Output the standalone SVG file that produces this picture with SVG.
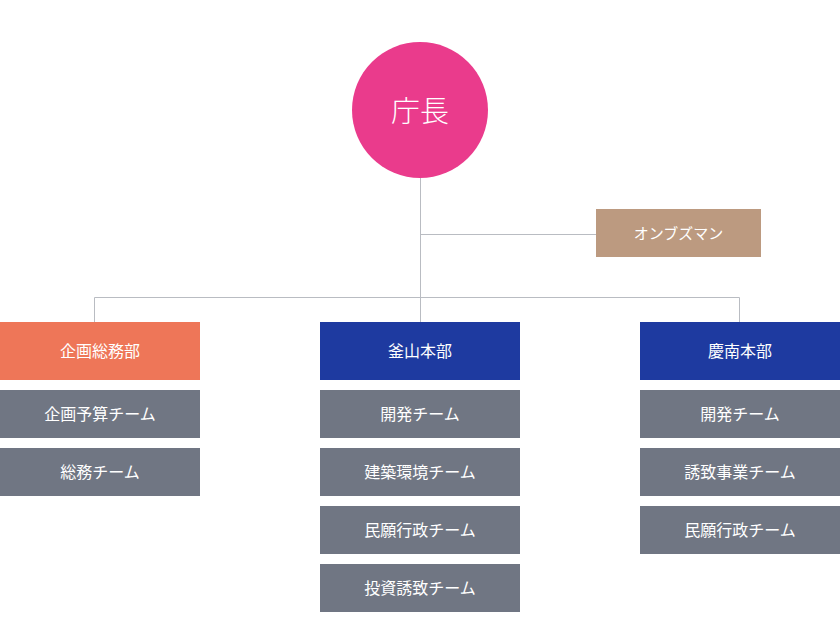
<svg xmlns="http://www.w3.org/2000/svg" width="840" height="644" viewBox="0 0 840 644">
<style>
text{font-family:"Noto Sans CJK JP","Noto Sans CJK SC",sans-serif;fill:#fff;text-anchor:middle;dominant-baseline:central;font-weight:400}
.dept{font-size:16px}
.team{font-size:16px}
.gray{fill:#707683}
.blue{fill:#1E3AA0}
.line{stroke:#B9BCC2;stroke-width:1;fill:none}
</style>
<rect width="840" height="644" fill="#fff"/>
<g id="connectors">
<path class="line" d="M420.5 178V322M420.5 234.5H596M94.5 322V297.5H739.5V322"/>
</g>
<g id="chief"><circle cx="420" cy="110" r="68" fill="#EA3B8C"/><text x="420" y="109" style="font-size:29px;font-weight:300">庁長</text></g>
<g id="ombudsman"><rect x="596" y="209" width="165" height="48" fill="#BC9A80"/><text x="678.5" y="232" style="font-size:15px">オンブズマン</text></g>
<g id="dept-planning"><rect x="0" y="322" width="200" height="58" fill="#EE7658"/><text class="dept" x="100" y="350">企画総務部</text></g>
<g id="team-planning-budget"><rect class="gray" x="0" y="390" width="200" height="48"/><text class="team" x="100" y="413">企画予算チーム</text></g>
<g id="team-general"><rect class="gray" x="0" y="448" width="200" height="48"/><text class="team" x="100" y="471">総務チーム</text></g>
<g id="dept-busan"><rect class="blue" x="320" y="322" width="200" height="58"/><text class="dept" x="420" y="350">釜山本部</text></g>
<g id="team-busan-dev"><rect class="gray" x="320" y="390" width="200" height="48"/><text class="team" x="420" y="413">開発チーム</text></g>
<g id="team-busan-build"><rect class="gray" x="320" y="448" width="200" height="48"/><text class="team" x="420" y="471">建築環境チーム</text></g>
<g id="team-busan-civil"><rect class="gray" x="320" y="506" width="200" height="48"/><text class="team" x="420" y="529">民願行政チーム</text></g>
<g id="team-busan-invest"><rect class="gray" x="320" y="564" width="200" height="48"/><text class="team" x="420" y="587">投資誘致チーム</text></g>
<g id="dept-gyeongnam"><rect class="blue" x="640" y="322" width="200" height="58"/><text class="dept" x="740" y="350">慶南本部</text></g>
<g id="team-gn-dev"><rect class="gray" x="640" y="390" width="200" height="48"/><text class="team" x="740" y="413">開発チーム</text></g>
<g id="team-gn-attract"><rect class="gray" x="640" y="448" width="200" height="48"/><text class="team" x="740" y="471">誘致事業チーム</text></g>
<g id="team-gn-civil"><rect class="gray" x="640" y="506" width="200" height="48"/><text class="team" x="740" y="529">民願行政チーム</text></g>
</svg>
